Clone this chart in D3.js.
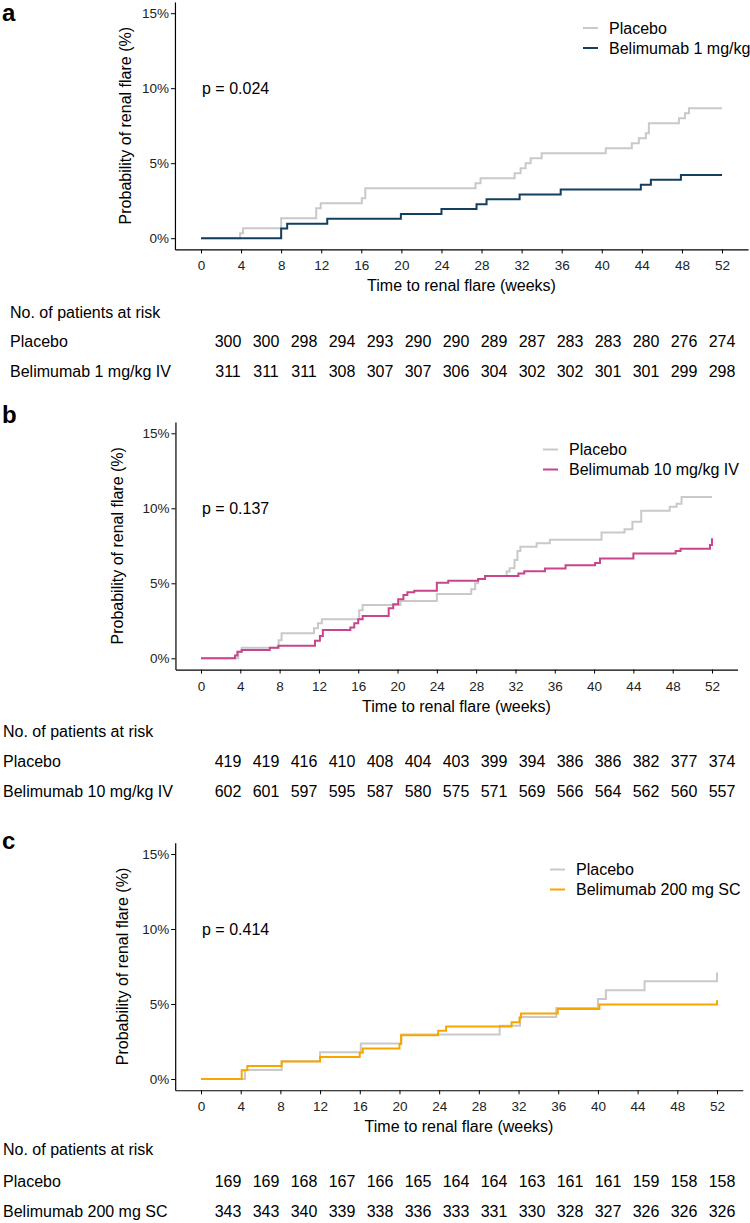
<!DOCTYPE html>
<html>
<head>
<meta charset="utf-8">
<script src="https://cdn.jsdelivr.net/npm/d3@7/dist/d3.min.js"></script>
<style>
  html, body { margin: 0; padding: 0; background: #fff; }
  svg { display: block; }
  text { font-family: "Liberation Sans", Arial, Helvetica, sans-serif; }
</style>
</head>
<body>
<svg id="chart" width="750" height="1223"></svg>
<script>
// ---------- DATA ----------
const weekTicks = [0, 4, 8, 12, 16, 20, 24, 28, 32, 36, 40, 44, 48, 52];
const pctTicks = [0, 5, 10, 15];
const panelLetters = ["a", "b", "c"];
const pValues = ["p = 0.024", "p = 0.137", "p = 0.414"];
const treatmentNames = ["Belimumab 1 mg/kg", "Belimumab 10 mg/kg IV", "Belimumab 200 mg SC"];
const riskRowNames = ["Belimumab 1 mg/kg IV", "Belimumab 10 mg/kg IV", "Belimumab 200 mg SC"];

// cumulative probability of renal flare (%), [week, percent]
const placeboA = [[0,0],[3.9,0.33],[4.2,0.67],[8.0,1.33],[11.5,2.0],[11.95,2.33],[16.05,2.67],[16.4,3.33],[27.4,3.67],[27.9,4.0],[31.3,4.33],[31.9,4.67],[32.4,5.0],[32.9,5.33],[34.0,5.67],[40.4,6.0],[43.0,6.33],[43.7,6.67],[44.4,7.0],[44.7,7.67],[47.7,8.0],[48.3,8.33],[48.7,8.67],[52,8.67]];
const beliA = [[0,0],[8.0,0.65],[8.6,0.97],[12.6,1.29],[19.95,1.62],[24.0,1.94],[27.5,2.27],[28.5,2.59],[31.8,2.92],[35.9,3.24],[43.9,3.56],[44.9,3.89],[47.9,4.21],[52,4.21]];

const placeboB = [[0,0],[3.8,0.44],[4.14,0.7],[7.9,1.2],[8.2,1.67],[11.5,2.0],[11.9,2.33],[12.3,2.6],[16.1,3.2],[16.45,3.55],[20.3,3.82],[24.0,4.28],[27.5,4.6],[27.9,5.0],[28.2,5.29],[28.9,5.48],[31.1,5.78],[31.4,6.0],[31.9,6.55],[32.2,7.15],[32.5,7.44],[34.15,7.67],[35.5,7.9],[40.76,8.38],[43.1,8.6],[43.9,9.1],[44.8,9.83],[47.7,10.1],[48.4,10.3],[48.9,10.75],[52,10.75]];
const beliB = [[0,0],[3.46,0.18],[3.7,0.44],[4.14,0.55],[7.0,0.7],[7.87,0.84],[11.6,1.17],[12.1,1.48],[12.4,1.88],[15.2,2.06],[15.6,2.33],[16.0,2.6],[16.45,2.82],[19.1,3.33],[19.56,3.6],[20.07,3.93],[20.6,4.22],[21.0,4.4],[21.7,4.5],[24.0,5.04],[25.16,5.17],[28.2,5.29],[28.9,5.48],[32.3,5.65],[32.9,5.8],[35.0,5.98],[37.1,6.2],[40.1,6.36],[40.6,6.65],[44.0,6.98],[48.3,7.15],[48.8,7.3],[51.8,7.55],[52,8.0]];

const placeboC = [[0,0],[4.43,0.6],[8.13,1.19],[12.0,1.78],[16.1,2.37],[20.2,2.96],[30.1,3.55],[32.15,4.14],[35.8,4.73],[40.0,5.33],[40.8,5.92],[44.7,6.51],[52,7.1]];
const beliC = [[0,0],[4.1,0.58],[4.67,0.87],[8.13,1.17],[12.0,1.46],[16.0,1.75],[16.3,2.04],[20.0,2.33],[20.15,2.92],[23.9,3.21],[24.7,3.5],[31.3,3.79],[32.1,4.08],[32.25,4.37],[35.95,4.66],[40.15,4.96],[52,5.25]];

// numbers at risk
const riskPlaceboA = [300,300,298,294,293,290,290,289,287,283,283,280,276,274];
const riskBeliA    = [311,311,311,308,307,307,306,304,302,302,301,301,299,298];
const riskPlaceboB = [419,419,416,410,408,404,403,399,394,386,386,382,377,374];
const riskBeliB    = [602,601,597,595,587,580,575,571,569,566,564,562,560,557];
const riskPlaceboC = [169,169,168,167,166,165,164,164,163,161,161,159,158,158];
const riskBeliC    = [343,343,340,339,338,336,333,331,330,328,327,326,326,326];

const placeboColor = "#c9c9c9";
const treatColors = ["#123f5f", "#c8448c", "#f7a600"];

// ---------- LAYOUT ----------
const layouts = [
  { x0: 201, x52: 722, y0: 238.2, letterY: 21, ytX: 125.5, legX: 583, legY: 28,
    tableTitleY: 312, rowY: [341, 371], tableLabelX: 10,
    placebo: placeboA, treat: beliA, riskP: riskPlaceboA, riskT: riskBeliA },
  { x0: 201, x52: 712, y0: 658.3, letterY: 423, ytX: 117.5, legX: 543, legY: 449.5,
    tableTitleY: 731, rowY: [761, 791], tableLabelX: 3,
    placebo: placeboB, treat: beliB, riskP: riskPlaceboB, riskT: riskBeliB },
  { x0: 201, x52: 717, y0: 1079, letterY: 849, ytX: 122.5, legX: 550, legY: 869.5,
    tableTitleY: 1149, rowY: [1181, 1211], tableLabelX: 3,
    placebo: placeboC, treat: beliC, riskP: riskPlaceboC, riskT: riskBeliC }
];

const svg = d3.select("#chart");
svg.append("rect").attr("width", 750).attr("height", 1223).attr("fill", "#fff");

layouts.forEach((L, i) => {
  const g = svg.append("g");
  const pxPerWeek = (L.x52 - L.x0) / 52;
  const x = d3.scaleLinear().domain([-2.6, 54.6])
    .range([L.x0 - 2.6 * pxPerWeek, L.x52 + 2.6 * pxPerWeek]);
  const pxPerPct = 15;
  const y = d3.scaleLinear().domain([-0.75, 15.75])
    .range([L.y0 + 0.75 * pxPerPct, L.y0 - 15.75 * pxPerPct]);

  // panel letter
  g.append("text").attr("x", 2).attr("y", L.letterY)
    .attr("font-size", 24).attr("font-weight", "bold").attr("fill", "#000")
    .text(panelLetters[i]);

  // axes
  const xAxis = d3.axisBottom(x).tickValues(weekTicks).tickSize(4).tickSizeOuter(0).tickFormat(d3.format("d"));
  const gx = g.append("g").attr("transform", `translate(0,${y(-0.75)})`).call(xAxis);
  gx.selectAll("text").attr("font-size", 13.5).attr("fill", "#222").attr("y", 21).attr("dy", 0)
    .style("font-family", '"Liberation Sans", Arial, sans-serif');
  gx.select(".domain").attr("stroke", "#000").attr("stroke-width", 1.2);
  gx.selectAll(".tick line").attr("stroke", "#000").attr("stroke-width", 1);

  const yAxis = d3.axisLeft(y).tickValues(pctTicks).tickSize(4).tickSizeOuter(0).tickPadding(2).tickFormat(d => d + "%");
  const gy = g.append("g").attr("transform", `translate(${x(-2.6)},0)`).call(yAxis);
  gy.selectAll("text").attr("font-size", 13.5).attr("fill", "#222")
    .style("font-family", '"Liberation Sans", Arial, sans-serif');
  gy.select(".domain").attr("stroke", "#000").attr("stroke-width", 1.2);
  gy.selectAll(".tick line").attr("stroke", "#000").attr("stroke-width", 1);

  // axis titles
  g.append("text").attr("x", (x(-2.6) + x(54.6)) / 2).attr("y", y(-0.75) + 42)
    .attr("text-anchor", "middle").attr("font-size", 16).attr("fill", "#000")
    .text("Time to renal flare (weeks)");
  g.append("text")
    .attr("transform", `translate(${L.ytX},${(y(-0.75) + y(15.75)) / 2}) rotate(-90)`)
    .attr("text-anchor", "middle").attr("dy", "0.35em").attr("font-size", 16).attr("fill", "#000")
    .text("Probability of renal flare (%)");

  // curves
  const line = d3.line().x(d => x(d[0])).y(d => y(d[1])).curve(d3.curveStepAfter);
  g.append("path").datum(L.placebo).attr("d", line).attr("fill", "none")
    .attr("stroke", placeboColor).attr("stroke-width", 2);
  g.append("path").datum(L.treat).attr("d", line).attr("fill", "none")
    .attr("stroke", treatColors[i]).attr("stroke-width", 2);

  // p value
  g.append("text").attr("x", x(0) + 1).attr("y", y(10)).attr("dy", "0.35em")
    .attr("font-size", 16).attr("fill", "#000").text(pValues[i]);

  // legend
  const legItems = [["Placebo", placeboColor], [treatmentNames[i], treatColors[i]]];
  legItems.forEach((it, k) => {
    const ly = L.legY + k * 20;
    g.append("line").attr("x1", L.legX).attr("x2", L.legX + 15).attr("y1", ly).attr("y2", ly)
      .attr("stroke", it[1]).attr("stroke-width", 2);
    g.append("text").attr("x", L.legX + 26).attr("y", ly).attr("dy", "0.35em")
      .attr("font-size", 16).attr("fill", "#000").text(it[0]);
  });

  // risk table
  const col = d3.scalePoint().domain(weekTicks).range([228, 722]);
  g.append("text").attr("x", L.tableLabelX).attr("y", L.tableTitleY).attr("dy", "0.35em")
    .attr("font-size", 16).attr("fill", "#000").text("No. of patients at risk");
  const rows = [["Placebo", L.riskP], [riskRowNames[i], L.riskT]];
  rows.forEach((r, k) => {
    const ry = L.rowY[k];
    g.append("text").attr("x", L.tableLabelX).attr("y", ry).attr("dy", "0.35em")
      .attr("font-size", 16).attr("fill", "#000").text(r[0]);
    g.selectAll(null).data(r[1]).enter().append("text")
      .attr("x", (d, j) => col(weekTicks[j])).attr("y", ry).attr("dy", "0.35em")
      .attr("text-anchor", "middle").attr("font-size", 16).attr("fill", "#000")
      .text(d => d);
  });
});
</script>
</body>
</html>
